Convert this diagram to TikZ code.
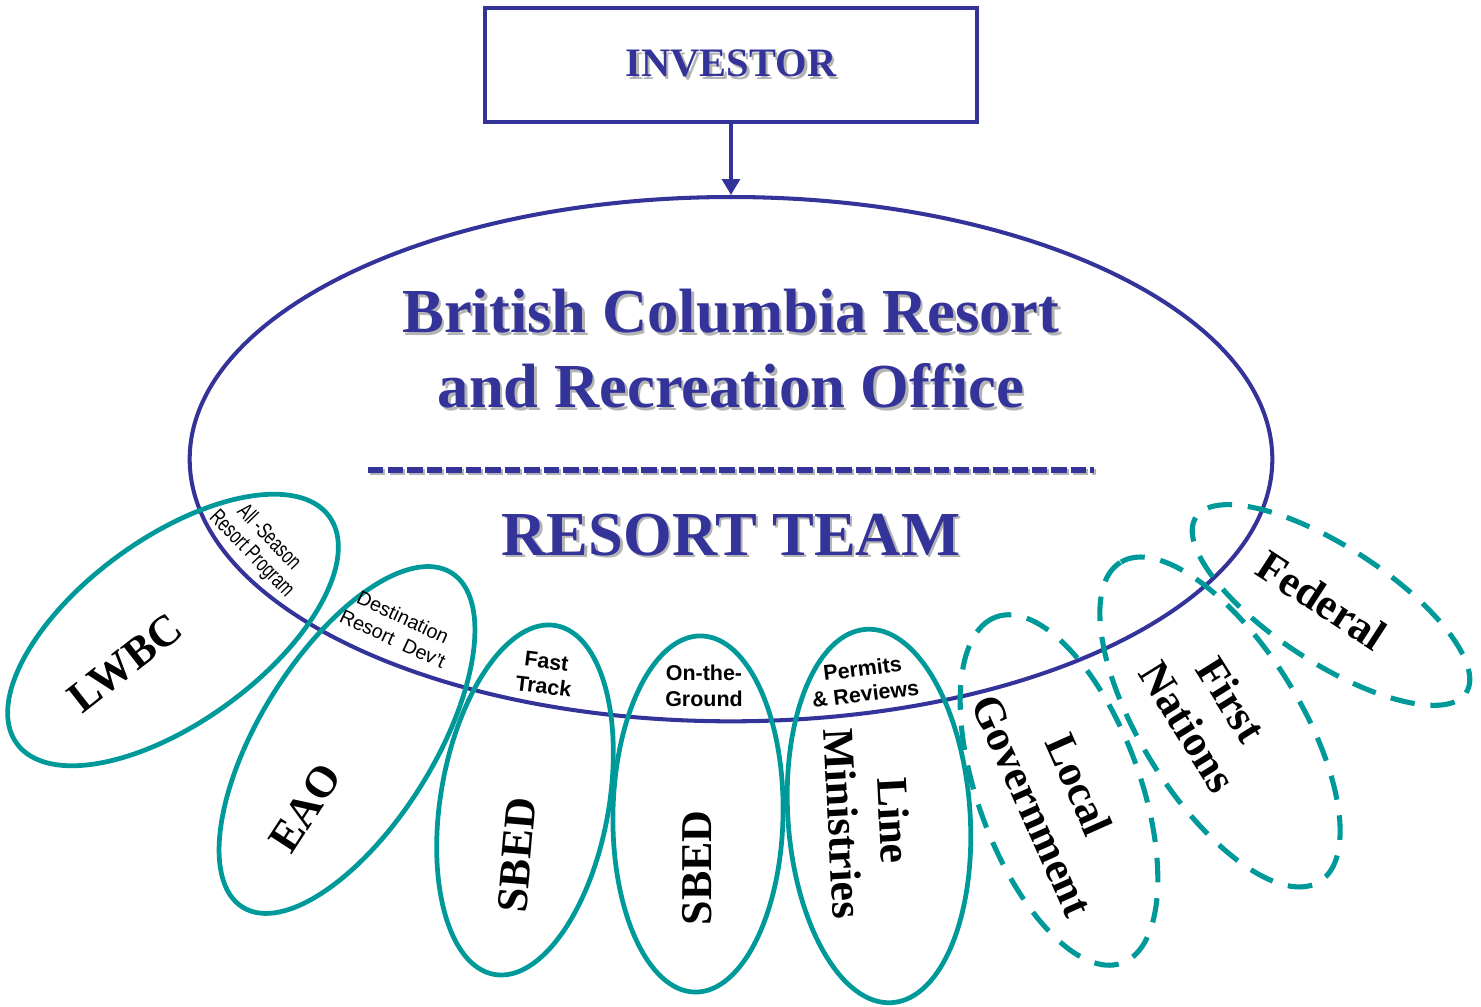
\documentclass[tikz,border=0pt]{standalone}
\usepackage{fontspec}
\setmainfont{Liberation Serif}
\setsansfont{Liberation Sans}
\newfontfamily\narrowsans[FakeStretch=0.7]{Liberation Sans}
\usetikzlibrary{shapes.geometric, positioning, arrows.meta}
\definecolor{bcblue}{HTML}{333399}
\definecolor{teamteal}{HTML}{009999}
\definecolor{shadowgray}{HTML}{B4B4B4}
\newcommand{\shadowed}[1]{\makebox[0pt][l]{\hspace{0.7pt}\raisebox{-0.7pt}{\textcolor{shadowgray}{#1}}}#1}

\begin{document}
\begin{tikzpicture}[
    x=0.01cm, y=-0.01cm,
    node distance=0.71cm,
    investorbox/.style={rectangle, draw=bcblue, line width=1.1pt, minimum width=4.92cm, minimum height=1.14cm, font=\bfseries\fontsize{11.5}{13}\selectfont, text=bcblue},
    office/.style={ellipse, draw=bcblue, line width=1.15pt, minimum width=10.82cm, minimum height=5.24cm, inner sep=0pt},
    heading/.style={font=\bfseries\fontsize{17.8}{21.3}\selectfont, text=bcblue, align=center},
    agency/.style={ellipse, draw=teamteal, line width=1.35pt, inner sep=0pt},
    partner/.style={agency, line width=1.45pt, dash pattern=on 7pt off 4.5pt},
    member/.style={font=\bfseries\fontsize{12.5}{14.5}\selectfont, align=center},
    role/.style={font=\sffamily\bfseries\fontsize{6.1}{7.2}\selectfont, align=center},
    program/.style={font=\sffamily\fontsize{5.6}{6.8}\selectfont, align=center},
    arrow/.style={-{Triangle[length=4.5pt, width=5pt]}, draw=bcblue, line width=1.1pt}
]
\useasboundingbox (0,0) rectangle (1481,1007);

% Investor and resort office
\node[investorbox] (investor) at (731,65) {\shadowed{INVESTOR}};
\node[office, below=of investor] (office) {};
\draw[arrow] (investor) -- (office);

\node[heading] (office-name) at (731,350) {\shadowed{British Columbia Resort}\\\shadowed{and Recreation Office}};
\coordinate (rule-left) at (368,470);
\coordinate (rule-right) at (1094,470);
\draw[shadowgray, line width=1.7pt, dash pattern=on 4.4pt off 1.15pt] ([shift={(2,2)}]rule-left) -- ([shift={(2,2)}]rule-right);
\draw[bcblue, line width=1.7pt, dash pattern=on 4.4pt off 1.15pt] (rule-left) -- (rule-right);
\node[heading] (team) at (731,536) {\shadowed{RESORT TEAM}};

% Team members
\node[agency, minimum width=3.86cm, minimum height=1.84cm, rotate=36] (lwbc-ring) at (173,630) {};
\node[agency, minimum width=3.94cm, minimum height=1.74cm, rotate=58] (eao-ring) at (347,740) {};
\node[agency, minimum width=3.54cm, minimum height=1.68cm, rotate=80] (fast-ring) at (525,800) {};
\node[agency, minimum width=3.56cm, minimum height=1.70cm, rotate=89] (ground-ring) at (698,814) {};
\node[agency, minimum width=3.74cm, minimum height=1.82cm, rotate=94] (permits-ring) at (879,816) {};

\node[member, rotate=38] (lwbc) at (125,663) {LWBC};
\node[member, rotate=57] (eao) at (305,808) {EAO};
\node[member, rotate=85] (sbed-fast) at (517,855) {SBED};
\node[member, rotate=90] (sbed-ground) at (697,868) {SBED};
\node[member, rotate=-87] (ministries) at (869,822) {Line\\Ministries};

\node[program, font=\narrowsans\fontsize{6.4}{6.8}\selectfont, rotate=-46] (all-season) at (260,546) {All -Season\\Resort Program};
\node[program, rotate=-25] (destination) at (398,628) {Destination\\Resort\ \ Dev't};
\node[role, rotate=-7] (fast-track) at (545,674) {Fast\\Track};
\node[role] (on-ground) at (704,686) {On-the-\\Ground};
\node[role, rotate=7] (permits) at (864,681) {Permits\\\& Reviews};

% Partners (dashed)
\node[partner, minimum width=3.68cm, minimum height=1.62cm, rotate=110] (local-ring) at (1059,790) {};
\node[partner, minimum width=3.76cm, minimum height=1.58cm, rotate=122] (nations-ring) at (1220,722) {};
\node[partner, minimum width=3.22cm, minimum height=1.16cm, rotate=-33] (federal-ring) at (1331,605) {};

\node[member, rotate=-66] (local) at (1056,795) {Local\\Government};
\node[member, rotate=-58] (nations) at (1210,713) {First\\Nations};
\node[member, rotate=-33] (federal) at (1322,600) {Federal};

\end{tikzpicture}
\end{document}
